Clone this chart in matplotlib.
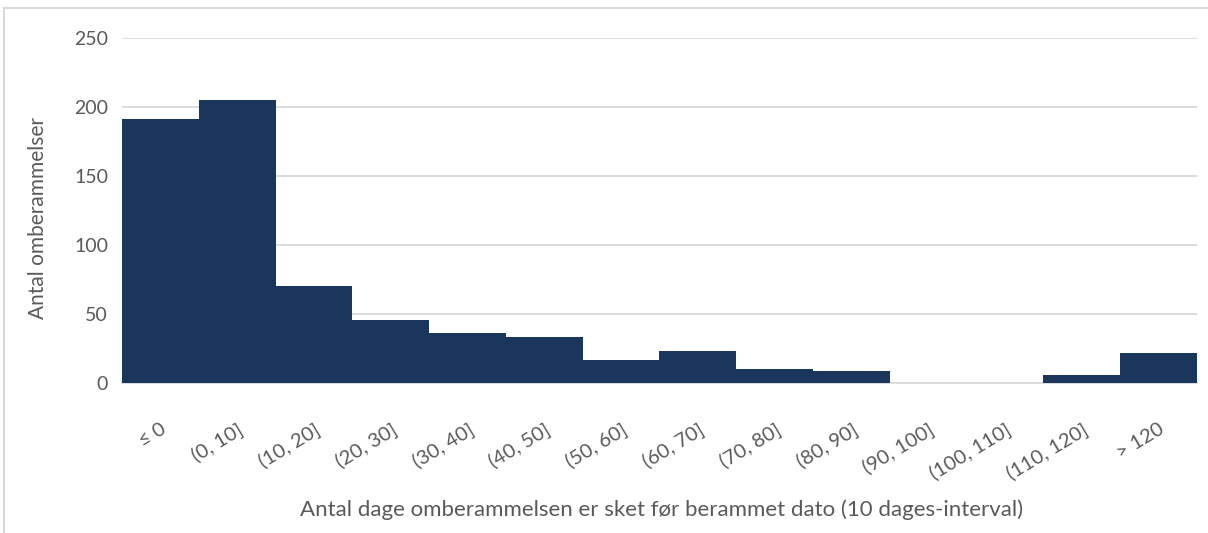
import matplotlib
matplotlib.use("Agg")
import matplotlib.pyplot as plt
import matplotlib.transforms as mtransforms
from matplotlib.lines import Line2D

categories = ["≤ 0", "(0, 10]", "(10, 20]", "(20, 30]", "(30, 40]", "(40, 50]", "(50, 60]",
              "(60, 70]", "(70, 80]", "(80, 90]", "(90, 100]", "(100, 110]", "(110, 120]", "> 120"]
counts = [191, 205, 70, 46, 36, 33, 17, 23, 10, 9, 0, 0, 6, 22]
yticks = [0, 50, 100, 150, 200, 250]

plt.rcParams['font.family'] = ['Lato', 'DejaVu Sans']

fig = plt.figure(figsize=(12.08, 5.33), dpi=100)
ax = fig.add_axes([122/1208, 1-383/533, (1197-122)/1208, (383-38)/533])

x = list(range(len(categories)))
ax.bar(x, counts, width=1.0, color="#1B365D", zorder=3)
ax.set_xlim(-0.5, len(categories) - 0.5)
ax.set_ylim(0, 250)
ax.set_yticks(yticks)
ax.set_yticklabels([str(v) for v in yticks], fontsize=14, color="#595959")
ax.yaxis.grid(True, color="#D9D9D9", linewidth=1.3, zorder=0)
ax.set_axisbelow(True)
ax.set_xticks(x)
ax.set_xticklabels(categories, rotation=31, ha="right", va="top", rotation_mode="anchor",
                   fontsize=14.5, color="#595959")
offset = mtransforms.ScaledTranslation(6/100, 0, fig.dpi_scale_trans)
for lab in ax.get_xticklabels():
    lab.set_transform(lab.get_transform() + offset)
for s in ["top", "right", "left"]:
    ax.spines[s].set_visible(False)
ax.spines["bottom"].set_color("#D9D9D9")
ax.spines["bottom"].set_linewidth(1.3)
ax.tick_params(axis="both", length=0)
ax.tick_params(axis="x", pad=27)
ax.tick_params(axis="y", pad=10)

fig.text(38/1208, 1-218/533, "Antal omberammelser", rotation=90, ha="center", va="center",
         fontsize=15, color="#595959")
fig.text(662/1208, 1-516/533, "Antal dage omberammelsen er sket før berammet dato (10 dages-interval)",
         ha="center", va="baseline", fontsize=16, color="#595959")

# outer chart border
fig.add_artist(Line2D([4/1208, 4/1208], [0, 1-8/533], transform=fig.transFigure, color="#D9D9D9", linewidth=1.5))
fig.add_artist(Line2D([4/1208, 1], [1-8/533, 1-8/533], transform=fig.transFigure, color="#D9D9D9", linewidth=1.5))

fig.savefig("out.png", dpi=100)
